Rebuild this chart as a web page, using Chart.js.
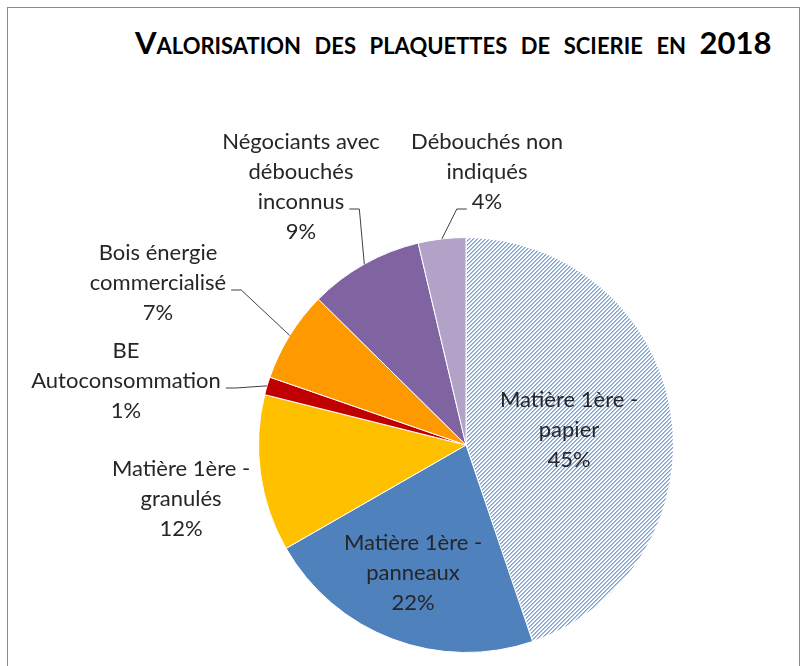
<!DOCTYPE html>
<html lang="fr">
<head>
<meta charset="utf-8">
<title>Valorisation des plaquettes de scierie en 2018</title>
<script src="https://cdn.jsdelivr.net/npm/chart.js@4/dist/chart.umd.min.js"></script>
<style>
    html, body { margin: 0; padding: 0; background: #fff; }
    #wrap { position: relative; width: 804px; height: 666px; overflow: hidden; }
    #frame { position: absolute; left: 7px; top: 7px; width: 793px; height: 700px; border: 1px solid #8a8a8a; box-sizing: border-box; }
    #title {
        position: absolute; left: 0; top: 23px; width: 804px; padding-left: 135px; box-sizing: border-box;
        font-family: Lato, "Open Sans", sans-serif; font-weight: bold; font-size: 31px;
        font-variant: small-caps; word-spacing: 6px; color: #000; white-space: nowrap;
    }
    #pie-chart { position: absolute; left: 0; top: 0; }
</style>
</head>
<body>
<div id="wrap">
    <div id="frame"></div>
    <div id="title">Valorisation des plaquettes de scierie en 2018</div>
    <canvas id="pie-chart" width="804" height="666"></canvas>
</div>
<script>
// categories, one entry per slice (lines as shown in the labels)
const categories = [
    ["Matière 1ère -", "papier"],
    ["Matière 1ère -", "panneaux"],
    ["Matière 1ère -", "granulés"],
    ["BE", "Autoconsommation"],
    ["Bois énergie", "commercialisé"],
    ["Négociants avec", "débouchés", "inconnus"],
    ["Débouchés non", "indiqués"],
];
// share of each outlet, in %
const shares = [44.8, 21.9, 12.2, 1.4, 7.1, 8.9, 3.7];
const sliceColors = ["pattern", "#4F81BD", "#FFC000", "#C00000", "#FF9900", "#8064A2", "#B3A2C7"];

// label block centre, relative to the pie centre (px)
const labelOffsets = [[103, -15], [-53, 128], [-285, 54], [-340, -64], [-308, -162], [-165, -258], [21, -273]];
// leader line: which text line it hangs from, and on which side
const leaders = [null, null, null, { line: 1, side: 1 }, { line: 1, side: 1 }, { line: 2, side: 1 }, { line: 2, side: -1 }];

document.addEventListener("DOMContentLoaded", () => {
    const canvas = document.getElementById("pie-chart");
    if (!canvas) return;

    // fine upward diagonal hatch, like the Excel pattern fill
    function makeHatch() {
        const tile = document.createElement("canvas");
        tile.width = 4;
        tile.height = 4;
        const t = tile.getContext("2d");
        t.fillStyle = "#fff";
        t.fillRect(0, 0, 4, 4);
        for (let x = 0; x < 4; x++) {
            for (let y = 0; y < 4; y++) {
                const k = (x + y) % 4;
                if (k === 3) { t.fillStyle = "#7A9FD2"; t.fillRect(x, y, 1, 1); }
                if (k === 0) { t.fillStyle = "#A9C2E4"; t.fillRect(x, y, 1, 1); }
            }
        }
        return t.createPattern(tile, "repeat");
    }
    const hatch = makeHatch();

    const labelFont = "22px Lato, 'Open Sans', sans-serif";
    const lineGap = 30;

    const labelPlugin = {
        id: "sliceLabels",
        afterDatasetsDraw(chart) {
            const ctx = chart.ctx;
            const meta = chart.getDatasetMeta(0);
            const total = shares.reduce((a, b) => a + b, 0);
            ctx.save();
            ctx.font = labelFont;
            ctx.textAlign = "center";
            ctx.textBaseline = "middle";
            meta.data.forEach((arc, i) => {
                const { x, y, startAngle, endAngle, outerRadius } = arc.getProps(["x", "y", "startAngle", "endAngle", "outerRadius"], true);
                const lines = categories[i].concat([Math.round((shares[i] / total) * 100) + "%"]);
                const cx = x + labelOffsets[i][0];
                const top = y + labelOffsets[i][1] - ((lines.length - 1) * lineGap) / 2;

                ctx.fillStyle = "#262626";
                lines.forEach((txt, k) => ctx.fillText(txt, cx, top + k * lineGap));

                const lead = leaders[i];
                if (lead) {
                    const mid = (startAngle + endAngle) / 2;
                    const ex = x + Math.cos(mid) * outerRadius;
                    const ey = y + Math.sin(mid) * outerRadius;
                    const w = ctx.measureText(lines[lead.line]).width;
                    const x0 = cx + lead.side * (w / 2 + 5);
                    const y0 = top + lead.line * lineGap + 7;
                    ctx.strokeStyle = "#404040";
                    ctx.lineWidth = 1;
                    ctx.beginPath();
                    ctx.moveTo(x0, y0);
                    ctx.lineTo(x0 + lead.side * 10, y0);
                    ctx.lineTo(ex, ey);
                    ctx.stroke();
                }
            });
            ctx.restore();
        },
    };

    new Chart(canvas, {
        type: "pie",
        data: {
            labels: categories,
            datasets: [{
                data: shares,
                backgroundColor: sliceColors.map((c) => (c === "pattern" ? hatch : c)),
                borderColor: "#fff",
                borderWidth: 1,
                hoverOffset: 0,
            }],
        },
        options: {
            responsive: false,
            animation: false,
            layout: { padding: { top: 237, bottom: 13, left: 200, right: 72 } },
            plugins: {
                legend: { display: false },
                tooltip: { enabled: false },
                title: { display: false },
            },
        },
        plugins: [labelPlugin],
    });
});
</script>
</body>
</html>
